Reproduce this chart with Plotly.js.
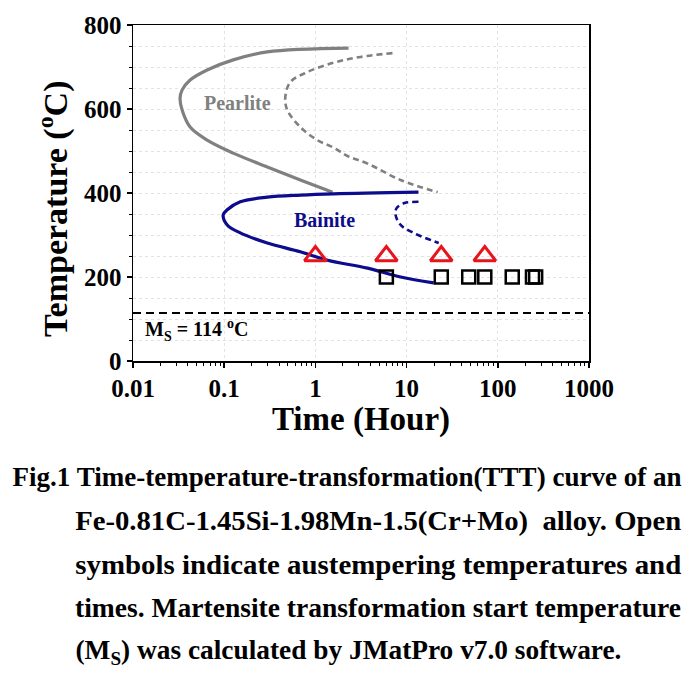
<!DOCTYPE html>
<html>
<head>
<meta charset="utf-8">
<script src="https://cdn.plot.ly/plotly-3.0.1.min.js"></script>
<style>html,body{margin:0;padding:0;background:#fff;}#chart{width:697px;height:685px;}</style>
</head>
<body>
<div id="chart"></div>
<script>
// ---- data (time in hours, temperature in °C) ----
const pearliteStartTime = [2.31, 0.297, 0.1256, 0.065, 0.0423, 0.0345, 0.0328, 0.0345, 0.0423, 0.065, 0.1256, 0.297, 0.684, 1.54];
const pearliteStartTemp = [745, 736, 717, 693, 669, 645, 626, 598, 557, 526, 495, 462, 431, 402];
const pearliteFinishTime = [7.0, 3.12, 1.58, 0.817, 0.531, 0.468, 0.49, 0.684, 1.05, 1.58, 2.25, 3.73, 8.6, 21.9];
const pearliteFinishTemp = [733, 724, 710, 688, 664, 629, 598, 557, 526, 508, 488, 470, 431, 402];
const bainiteStartTime = [13.5, 1.58, 0.684, 0.297, 0.150, 0.108, 0.0975, 0.108, 0.150, 0.297, 0.684, 1.36, 3.73, 8.6, 19.8];
const bainiteStartTemp = [402, 398, 395, 390, 379, 360, 348, 324, 305, 281, 260, 240, 221, 200, 186];
const bainiteFinishTime = [13.5, 9.5, 7.77, 7.57, 8.6, 11.9, 22.5];
const bainiteFinishTemp = [379, 376, 364, 348, 324, 305, 281];
const triangleTime = [1, 6, 24, 72];
const triangleTemp = [250, 250, 250, 250];
const squareTime = [6, 24, 48, 72, 144, 240, 260];
const squareTemp = [200, 200, 200, 200, 200, 200, 200];
const msTemp = 114;
const xTickVals = [0.01, 0.1, 1, 10, 100, 1000];
const xTickText = ['0.01', '0.1', '1', '10', '100', '1000'];
const captionLines = [
  'Fig.1 Time-temperature-transformation(TTT) curve of an',
  'Fe-0.81C-1.45Si-1.98Mn-1.5(Cr+Mo)  alloy. Open',
  'symbols indicate austempering temperatures and',
  'times. Martensite transformation start temperature',
  '(M<sub>S</sub>) was calculated by JMatPro v7.0 software.'
];

// ---- layout geometry ----
const L = 133, R = 589, T = 25, B = 361;
const PW = R - L, PH = B - T;
const px2x = p => (p - L) / PW;
const px2y = p => (B - p) / PH;

const serif = '"Liberation Serif", "Times New Roman", serif';
const gray = '#808080';
const navy = '#0c0c8c';

const traces = [
  {x: pearliteStartTime, y: pearliteStartTemp, mode: 'lines', line: {color: gray, width: 3.2, shape: 'spline', smoothing: 1}},
  {x: pearliteFinishTime, y: pearliteFinishTemp, mode: 'lines', line: {color: gray, width: 2.6, dash: '6px,4px', shape: 'spline', smoothing: 1}},
  {x: bainiteStartTime, y: bainiteStartTemp, mode: 'lines', line: {color: navy, width: 3.2, shape: 'spline', smoothing: 1}},
  {x: bainiteFinishTime, y: bainiteFinishTemp, mode: 'lines', line: {color: navy, width: 2.6, dash: '6px,4px', shape: 'spline', smoothing: 1}},
  {x: [0.01, 1000], y: [msTemp, msTemp], mode: 'lines', line: {color: '#000', width: 2, dash: '8px,5px'}},
  {x: triangleTime, y: triangleTemp, mode: 'markers', marker: {symbol: 'triangle-up-open', size: 19, color: '#e8141c', line: {width: 3, color: '#e8141c'}}},
  {x: squareTime, y: squareTemp, mode: 'markers', marker: {symbol: 'square-open', size: 13, color: '#000', line: {width: 2.5, color: '#000'}}}
];

const capFont = {family: serif, size: 27, color: '#000', weight: 'bold'};
const capMidY = [477, 521, 565, 608, 652];
const capSpans = [[12, 681], [75, 681], [75, 681], [75, 681], [75, 621]];

const annotations = [
  {xref: 'paper', yref: 'paper', x: px2x(237), y: px2y(103), xanchor: 'center', yanchor: 'middle', text: 'Pearlite', showarrow: false,
   font: {family: serif, size: 20, color: gray, weight: 'bold'}},
  {xref: 'paper', yref: 'paper', x: px2x(324), y: px2y(220), xanchor: 'center', yanchor: 'middle', text: 'Bainite', showarrow: false,
   font: {family: serif, size: 20, color: navy, weight: 'bold'}},
  {xref: 'paper', yref: 'paper', x: px2x(143), xanchor: 'left', y: px2y(330), yanchor: 'middle', text: 'M<sub>S</sub> = 114 <sup>o</sup>C', showarrow: false,
   font: {family: serif, size: 20, color: '#000', weight: 'bold'}},
  {xref: 'paper', yref: 'paper', x: px2x(53), y: px2y(209), xanchor: 'center', yanchor: 'middle', textangle: -90,
   text: 'Temperature (<sup>o</sup>C)', showarrow: false,
   font: {family: serif, size: 34, color: '#000', weight: 'bold'}}
];
captionLines.forEach((t, i) => {
  const c = (capSpans[i][0] + capSpans[i][1]) / 2;
  annotations.push({xref: 'paper', yref: 'paper', x: px2x(c), xanchor: 'center', y: px2y(capMidY[i]), yanchor: 'middle',
    text: t, showarrow: false, font: capFont});
});
const capIndex0 = 4;

const axisCommon = {
  showline: true, linecolor: '#000', linewidth: 1.5, mirror: true,
  ticks: 'outside', ticklen: 5, tickwidth: 1.5, tickcolor: '#000',
  showgrid: true, gridcolor: '#e3e3e3', griddash: 'dot', gridwidth: 1,
  zeroline: false,
  tickfont: {family: serif, size: 25, color: '#000', weight: 'bold'}
};

const layout = {
  width: 697, height: 685,
  margin: {l: L, r: 697 - R, t: T, b: 685 - B},
  paper_bgcolor: '#fff', plot_bgcolor: '#fff',
  showlegend: false,
  font: {family: serif},
  xaxis: Object.assign({}, axisCommon, {
    type: 'log', range: [-2, 3], tickvals: xTickVals, ticktext: xTickText,
    ticklabelstandoff: -1,
    minor: {ticks: 'outside', ticklen: 3, tickwidth: 1, tickcolor: '#000', dtick: 'D1', showgrid: false},
    title: {text: 'Time (Hour)', standoff: 0, font: {family: serif, size: 33, color: '#000', weight: 'bold'}}
  }),
  yaxis: Object.assign({}, axisCommon, {
    range: [0, 800], dtick: 200, tick0: 0,
    minor: {ticks: 'outside', ticklen: 3, tickwidth: 1, tickcolor: '#000', dtick: 50, showgrid: true, gridcolor: '#e3e3e3', griddash: 'dot'}
  }),
  annotations: annotations
};

Plotly.newPlot('chart', traces, layout, {staticPlot: true}).then(() => {
  captionLines.forEach((t, i) => {
    const el = document.querySelector('.annotation[data-index="' + (capIndex0 + i) + '"] text.annotation-text');
    if (el) {
      el.setAttribute('textLength', capSpans[i][1] - capSpans[i][0]);
      el.setAttribute('lengthAdjust', 'spacingAndGlyphs');
    }
  });
});
</script>
</body>
</html>
